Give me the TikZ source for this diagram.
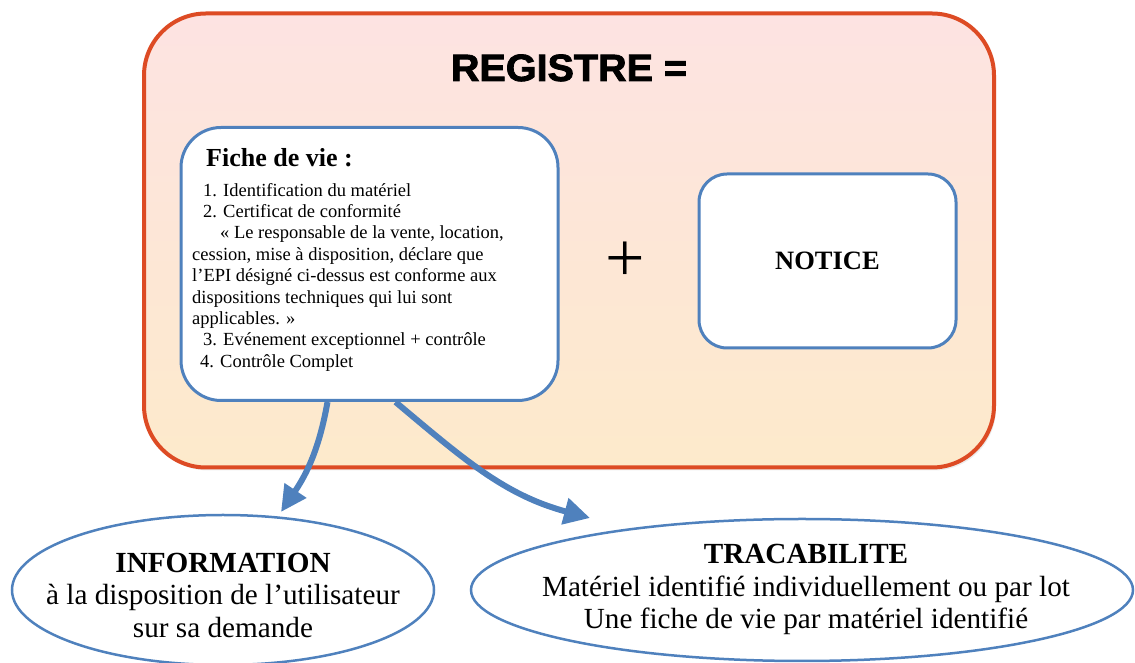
\documentclass[tikz,border=0pt]{standalone}
\usepackage{fontspec}
\setmainfont{Liberation Serif}
\newfontfamily\regfont[FakeStretch=1.04,FakeBold=2.2]{Liberation Sans Bold}
\usetikzlibrary{arrows.meta,shadows,shapes.geometric}
\definecolor{regborder}{RGB}{221,75,36}
\definecolor{regtop}{RGB}{253,227,226}
\definecolor{regbot}{RGB}{253,234,203}
\definecolor{epiblue}{RGB}{79,129,189}
\tikzset{
  outerbox/.style={draw=regborder, line width=4pt, rounded corners=62pt,
    top color=regtop, bottom color=regbot, minimum width=850pt, minimum height=454pt,
    inner sep=0pt, drop shadow={shadow xshift=2pt,shadow yshift=-3pt,opacity=0.15}},
  whitebox/.style={draw=epiblue, line width=3pt, fill=white, inner sep=0pt},
  bubble/.style={draw=epiblue, line width=2.5pt, fill=white, ellipse, inner sep=0pt},
  flow/.style={draw=epiblue, line width=6pt},
  bubbletext/.style={anchor=north, align=center, inner sep=0pt, font=\fontsize{29.2}{32.5}\selectfont},
}
\begin{document}
\begin{tikzpicture}[x=1pt,y=1pt]
\useasboundingbox (0,0) rectangle (1135,663);
\node[outerbox] (reg) at (569,422.5) {};
\node[font=\regfont\fontsize{38}{40}\selectfont, anchor=base, inner sep=0pt] (title) at (569,582) {REGISTRE =};
\node[whitebox, rounded corners=40pt, minimum width=377pt, minimum height=273pt] (fiche) at (369.5,399) {};
\node[anchor=base west, inner sep=0pt, font=\bfseries\fontsize{26}{30}\selectfont] (fichetitle) at (206,496) {Fiche de vie :};
\node[anchor=north west, inner sep=0pt, align=left, font=\fontsize{18.5}{21.4}\selectfont] (fichetext) at (192,482)
{\strut\hspace*{11pt}1. Identification du matériel\\
\hspace*{11pt}2. Certificat de conformité\\
\hspace*{28pt}« Le responsable de la vente, location,\\
cession, mise à disposition, déclare que\\
l’EPI désigné ci-dessus est conforme aux\\
dispositions techniques qui lui sont\\
applicables. »\\
\hspace*{11pt}3. Evénement exceptionnel + contrôle\\
\hspace*{8pt}4. Contrôle Complet};
\node[inner sep=0pt, font=\fontsize{70}{70}\selectfont] (plus) at (625,401) {+};
\node[whitebox, rounded corners=28pt, minimum width=257pt, minimum height=174pt,
  font=\bfseries\fontsize{26.5}{30}\selectfont] (notice) at (827.5,402) {NOTICE};
\node[bubble, minimum width=422pt, minimum height=150pt] (info) at (223,73) {};
\node[bubbletext] (infotext) at (223,113.75)
{\strut\textbf{INFORMATION}\\à la disposition de l’utilisateur\\sur sa demande};
\node[bubble, minimum width=662pt, minimum height=142pt] (trace) at (802,73) {};
\node[bubbletext] (tracetext) at (806,122.4)
{\strut\textbf{TRACABILITE}\\Matériel identifié individuellement ou par lot\\Une fiche de vie par matériel identifié};
\coordinate (tip1) at (281,151);
\coordinate (tip2) at (590,145);
\draw[flow, -{Triangle[length=26pt,width=25pt]}] ([xshift=-42pt]fiche.south) to[out=260,in=56] (tip1);
\draw[flow, -{Triangle[length=26pt,width=26pt]}] ([xshift=26pt]fiche.south) to[out=-40,in=165] (tip2);
\end{tikzpicture}
\end{document}
